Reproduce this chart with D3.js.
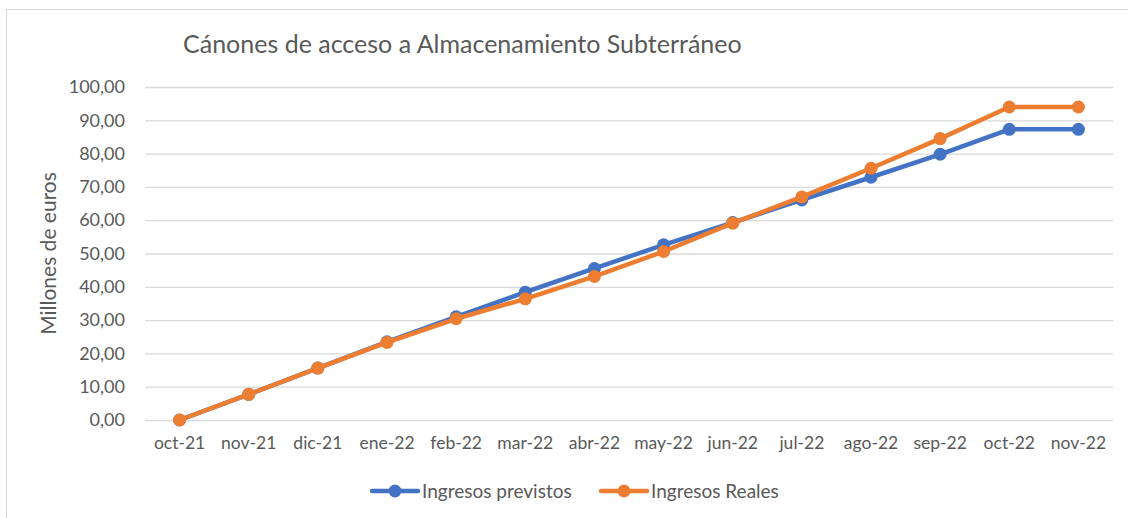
<!DOCTYPE html>
<html>
<head>
<meta charset="utf-8">
<script src="https://cdn.jsdelivr.net/npm/d3@7"></script>
<style>
  body { margin: 0; background: #fff; }
  text { font-family: Lato, "Noto Sans", sans-serif; fill: #595959; }
</style>
</head>
<body>
<div class="chartCont"></div>
<script>
const w = 1128;
const h = 518;

// data
const months = ["oct-21", "nov-21", "dic-21", "ene-22", "feb-22", "mar-22", "abr-22",
                "may-22", "jun-22", "jul-22", "ago-22", "sep-22", "oct-22", "nov-22"];
const previstos = [0, 7.7, 15.6, 23.5, 31.0, 38.4, 45.5, 52.6, 59.3, 66.1, 72.9, 79.8, 87.3, 87.3];
const reales = [0, 7.7, 15.6, 23.3, 30.4, 36.4, 43.1, 50.6, 59.1, 67.0, 75.6, 84.5, 94.0, 94.0];
const yTicks = [0, 10, 20, 30, 40, 50, 60, 70, 80, 90, 100];

const series = [
  {name: "Ingresos previstos", values: previstos, color: "#4472C4"},
  {name: "Ingresos Reales", values: reales, color: "#ED7D31"}
];

const margin = {left: 145, right: 15, top: 87, bottom: 98};

const svg = d3.select(".chartCont").append("svg")
    .attr("width", w)
    .attr("height", h);

// chart frame (only left/top edges visible in the picture)
svg.append("rect")
    .attr("x", 6.5).attr("y", 9.5)
    .attr("width", w + 20).attr("height", h + 20)
    .attr("fill", "none")
    .attr("stroke", "#D9D9D9")
    .attr("stroke-width", 1);

const x = d3.scaleBand()
    .domain(months)
    .range([margin.left, w - margin.right]);

const y = d3.scaleLinear()
    .domain([0, 100])
    .range([h - margin.bottom, margin.top]);

const fmt = d => d3.format(".2f")(d).replace(".", ",");

// gridlines + y labels
const yAxis = svg.append("g")
    .attr("transform", `translate(${margin.left},0)`)
    .call(d3.axisLeft(y).tickValues(yTicks).tickFormat(fmt)
          .tickSize(-(w - margin.left - margin.right)).tickPadding(20));
yAxis.select(".domain").remove();
yAxis.selectAll(".tick line").attr("stroke", "#D9D9D9").attr("stroke-width", 1.3);
yAxis.selectAll(".tick text").style("font-size", "18px").attr("fill", "#595959");

// x labels
const xAxis = svg.append("g")
    .attr("transform", `translate(0,${h - margin.bottom})`)
    .call(d3.axisBottom(x).tickSize(0).tickPadding(17));
xAxis.select(".domain").remove();
xAxis.selectAll(".tick text").style("font-size", "17.5px").attr("fill", "#595959");

// lines + markers
const line = d3.line()
    .x((d, i) => x(months[i]) + x.bandwidth() / 2)
    .y(d => y(d));

series.forEach(s => {
  svg.append("path")
      .datum(s.values)
      .attr("fill", "none")
      .attr("stroke", s.color)
      .attr("stroke-width", 4.5)
      .attr("stroke-linejoin", "round")
      .attr("d", line);

  svg.append("g").selectAll("circle")
      .data(s.values)
      .enter()
      .append("circle")
      .attr("cx", (d, i) => x(months[i]) + x.bandwidth() / 2)
      .attr("cy", d => y(d))
      .attr("r", 6.5)
      .attr("fill", s.color);
});

// title
svg.append("text")
    .attr("x", 183)
    .attr("y", 53)
    .style("font-size", "25px")
    .text("Cánones de acceso a Almacenamiento Subterráneo");

// y axis title
svg.append("text")
    .attr("transform", `translate(56,${(y(0) + y(100)) / 2}) rotate(-90)`)
    .attr("text-anchor", "middle")
    .style("font-size", "21px")
    .text("Millones de euros");

// legend
const legendX = [372, 601];
const legend = svg.append("g").attr("transform", "translate(0,491)");
series.forEach((s, i) => {
  const g = legend.append("g").attr("transform", `translate(${legendX[i]},0)`);
  g.append("line")
      .attr("x1", 0).attr("x2", 46)
      .attr("stroke", s.color).attr("stroke-width", 4.5)
      .attr("stroke-linecap", "round");
  g.append("circle").attr("cx", 23).attr("r", 6.5).attr("fill", s.color);
  g.append("text")
      .attr("x", 50).attr("dy", "0.35em")
      .style("font-size", "19px")
      .text(s.name);
});
</script>
</body>
</html>
